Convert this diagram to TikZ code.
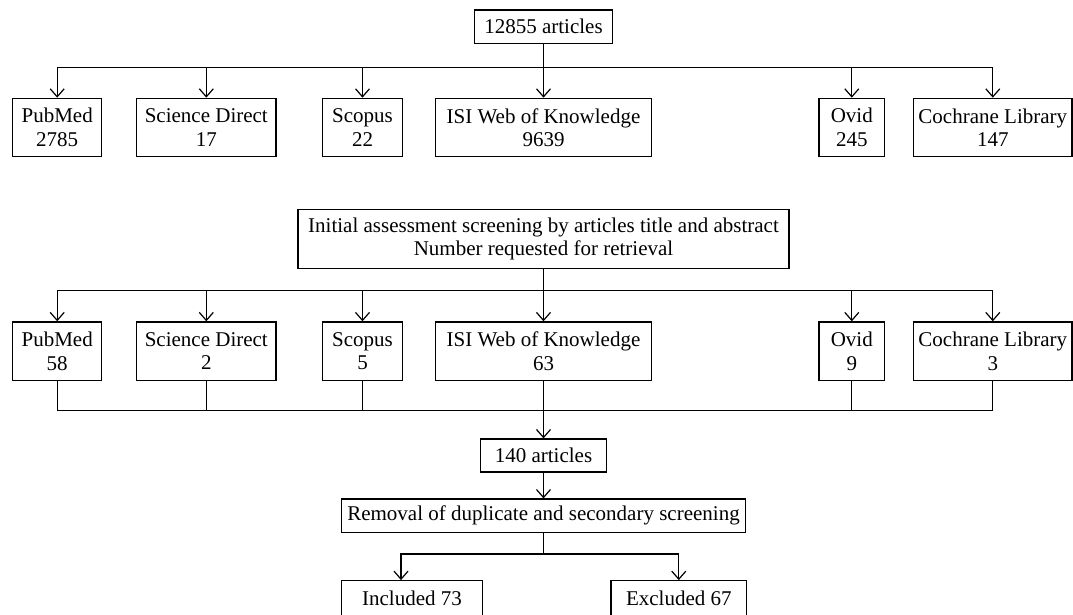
\documentclass[tikz,border=0pt]{standalone}
\usepackage{fontspec}
\setmainfont{Liberation Serif}
\usetikzlibrary{arrows.meta,positioning}

\begin{document}
\begin{tikzpicture}[x=1pt,y=1pt,>={Straight Barb[length=8pt,width=14pt]},line width=1.2pt]
  \tikzstyle{count}=[rectangle,draw=black,line width=1.2pt,inner sep=0pt,minimum height=33.5pt,
  		   font=\fontsize{21}{23.5}\selectfont]
  \tikzstyle{source}=[count,align=center,minimum height=58.4pt]
  \useasboundingbox (0,0) rectangle (1073,614);

 \begin{scope}
    % All hits.
    \node [count,minimum width=138pt] (m1) at (543.5,587.3) {12855 articles};
    \coordinate (b1) at (543.5,546.3);

    % Databases, first pass.
    \node [source,minimum width=89pt] (c11) at (57.2,486.5) {PubMed\\2785};
    \node [source,minimum width=139.3pt] (c12) at (206.3,486.5) {Science Direct\\17};
    \node [source,minimum width=79.6pt] (c13) at (362.5,486.5) {Scopus\\22};
    \node [source,minimum width=216pt] (c14) at (543.5,486.5) {ISI Web of Knowledge\\9639};
    \node [source,minimum width=65.7pt] (c15) at (851.8,486.5) {Ovid\\245};
    \node [source,minimum width=158.3pt] (c16) at (992.8,486.5) {Cochrane Library\\147};

    % Title and abstract screening.
    \node [source,minimum width=491pt,minimum height=59pt] (m2) at (543.5,375.2)
      {Initial assessment screening by articles title and abstract\\Number requested for retrieval};
    \coordinate (b2) at (543.5,323.3);

    % Databases, second pass.
    \node [source,minimum width=89pt] (c21) [below=164pt of c11] {PubMed\\58};
    \node [source,minimum width=139.3pt] (c22) [below=164pt of c12] {Science Direct\\2};
    \node [source,minimum width=79.6pt] (c23) [below=164pt of c13] {Scopus\\5};
    \node [source,minimum width=216pt] (c24) [below=164pt of c14] {ISI Web of Knowledge\\63};
    \node [source,minimum width=65.7pt] (c25) [below=164pt of c15] {Ovid\\9};
    \node [source,minimum width=158.3pt] (c26) [below=164pt of c16] {Cochrane Library\\3};
    \coordinate (b3) at (543.5,203.3);

    % Pooled and final.
    \node [count,minimum width=126pt,minimum height=33pt] (m3) at (543.5,158.5) {140 articles};
    \node [count,minimum width=404pt,minimum height=33.7pt] (m4) at (543.5,98.15) {Removal of duplicate and secondary screening};
    \coordinate (b4) at (543.5,60);
    \node [count,minimum width=140.6pt,minimum height=36pt] (m5) at (412,15.3) {Included 73};
    \node [count,minimum width=135.7pt,minimum height=36pt] (m6) at (678.8,15.3) {Excluded 67};

    \draw (m1) -- (b1);
    \draw [->] (b1) -| (c11);
    \draw [->] (b1) -| (c12);
    \draw [->] (b1) -| (c13);
    \draw [->] (b1) -- (c14);
    \draw [->] (b1) -| (c15);
    \draw [->] (b1) -| (c16);

    \draw (m2) -- (b2);
    \draw [->] (b2) -| (c21);
    \draw [->] (b2) -| (c22);
    \draw [->] (b2) -| (c23);
    \draw [->] (b2) -- (c24);
    \draw [->] (b2) -| (c25);
    \draw [->] (b2) -| (c26);

    \draw (c21) |- (b3);
    \draw (c22) |- (b3);
    \draw (c23) |- (b3);
    \draw (c25) |- (b3);
    \draw (c26) |- (b3);
    \draw [->] (c24) -- (m3);
    \draw [->] (m3) -- (m4);

    \draw (m4) -- (b4);
    \draw [->] (b4) -| ([xshift=-11pt]m5.north);
    \draw [->] (b4) -| (m6);
  \end{scope}
\end{tikzpicture}
\end{document}
